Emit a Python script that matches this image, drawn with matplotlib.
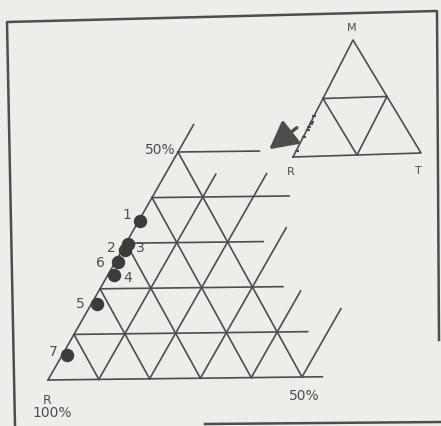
# Ternary corner diagram (R-M-T), R corner enlarged to 50 %, with a key triangle
import numpy as np
import matplotlib.pyplot as plt
from matplotlib.transforms import Affine2D

# data: composition of the samples, percent T and percent M (rest is R)
labels = ["1", "2", "3", "4", "5", "6", "7"]
t_pct = [0.3, 0.6, 0.5, 1.2, 1.1, 0.5, 0.9]
m_pct = [34.9, 28.5, 29.8, 23.0, 16.7, 25.9, 5.5]

# grid: lines of constant M and how far in T they run, lines of constant T and how far in M
m_levels = [0, 10, 20, 30, 40, 50]
m_line_end = [54, 46, 36, 27, 27, 16]
t_levels = [0, 10, 20, 30, 40, 50]
t_line_end = [56, 45, 45, 33, 19, 15]
s_levels = [10, 20, 30, 40, 50]   # lines of constant T+M

INK = "#4d4d4d"
BG = "#ededea"

fig = plt.figure(figsize=(4.41, 4.26), dpi=100, facecolor=BG)
ax = fig.add_axes([0, 0, 1, 1])
ax.set_xlim(0, 441)
ax.set_ylim(426, 0)
ax.set_facecolor(BG)
ax.axis("off")

# ternary (T%, M%) -> pixel, for the big corner plot and for the small key
main = Affine2D(np.array([[5.08, 2.6, 48], [-0.06, -4.56, 380], [0, 0, 1]])) + ax.transData
key = Affine2D(np.array([[1.28, 0.60, 293], [-0.04, -1.17, 157], [0, 0, 1]])) + ax.transData

lw = 1.2
for m, end in zip(m_levels, m_line_end):
    ax.plot([0, end], [m, m], color=INK, lw=lw, transform=main)
for t, end in zip(t_levels, t_line_end):
    ax.plot([t, t], [0, end], color=INK, lw=lw, transform=main)
for s in s_levels:
    ax.plot([0, s], [s, 0], color=INK, lw=lw, transform=main)

ax.scatter(t_pct, m_pct, s=75, color="#3c3c3c", zorder=3, transform=main)

# sample numbers
lab_off = {"1": (-13, -6), "2": (-14, -2), "3": (12, 4), "4": (14, 3),
           "5": (-17, 0), "6": (-17, 1), "7": (-14, -3)}
for lab, t, m in zip(labels, t_pct, m_pct):
    x, y = ax.transData.inverted().transform(main.transform((t, m)))
    dx, dy = lab_off[lab]
    ax.text(x + dx, y + dy, lab, fontsize=10, color=INK, ha="center", va="center")

ax.text(160, 150, "50%", fontsize=10, color=INK, ha="center", va="center")
ax.text(304, 396, "50%", fontsize=10, color=INK, ha="center", va="center")
ax.text(47, 400, "R", fontsize=9, color=INK, ha="center", va="center")
ax.text(52, 413, "100%", fontsize=10, color=INK, ha="center", va="center")

# key triangle with the midpoint triangle
ax.plot([0, 100, 0, 0], [0, 0, 100, 0], color=INK, lw=lw, transform=key)
ax.plot([0, 50, 50, 0], [50, 0, 50, 50], color=INK, lw=lw, transform=key)
ax.scatter(t_pct, m_pct, s=6, marker="_", color=INK, zorder=3, transform=key)
ax.text(352, 28, "M", fontsize=8, color=INK, ha="center", va="center")
ax.text(291, 172, "R", fontsize=8, color=INK, ha="center", va="center")
ax.text(418, 171, "T", fontsize=8, color=INK, ha="center", va="center")
ax.annotate("", xy=(267, 151), xytext=(299, 126),
            arrowprops=dict(arrowstyle="-|>,head_length=1.7,head_width=0.9",
                            color=INK, lw=2.4))

# frame of the scanned figure
ax.plot([15, 7, 437, 439], [426, 22, 11, 340], color=INK, lw=1.8)
ax.plot([205, 441], [424, 422], color=INK, lw=1.8)

fig.savefig("out.png", dpi=100, facecolor=BG)
